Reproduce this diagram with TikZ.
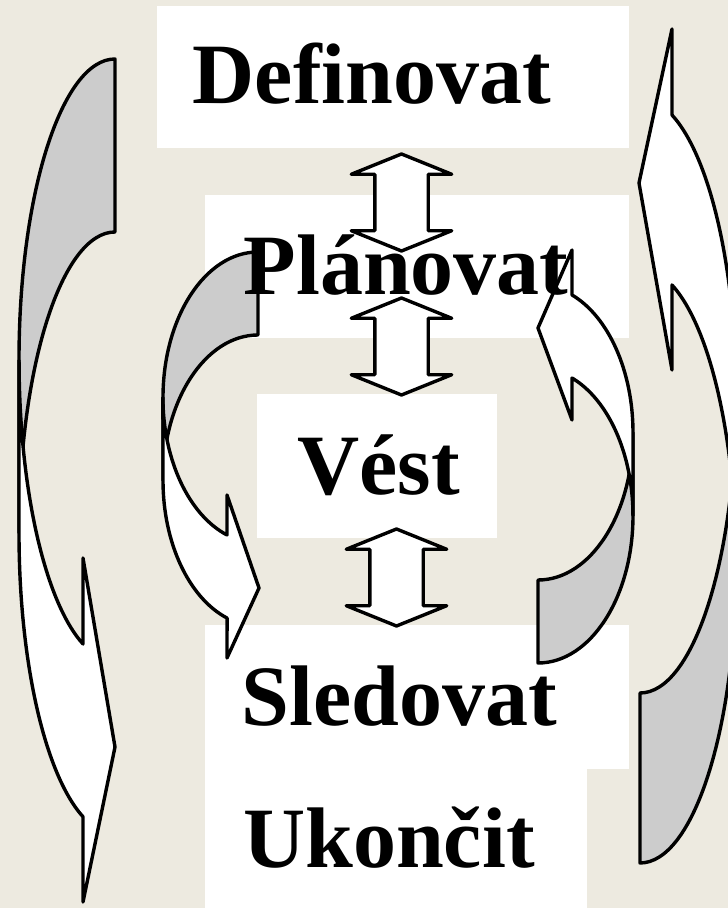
\documentclass[tikz,border=0pt]{standalone}
\usepackage{fontspec}
\setmainfont{Liberation Serif}[Ligatures=NoCommon]
\usepackage{tikz}
\usetikzlibrary{shapes.arrows}
\definecolor{paper}{HTML}{EDEAE0}
\definecolor{shade}{HTML}{CCCCCC}

\begin{document}
\begin{tikzpicture}[x=1pt,y=1pt,
          card/.style={fill=white,inner sep=0pt},
          word/.style={font=\fontsize{86}{90}\selectfont\bfseries,
                       inner sep=0pt,anchor=base},
          band/.style={draw,line width=3.4pt,line join=round},
          back/.style={band,fill=shade},
          face/.style={band,fill=white},
          link/.style={draw,fill=white,line width=3.4pt,line join=round,
                       shape=double arrow,rotate=90,
                       inner xsep=0pt,inner ysep=25pt,
                       minimum height=97pt,
                       double arrow head extend=23.5pt,
                       double arrow tip angle=136},
      ]
        \useasboundingbox (0,0) rectangle (728,908);
        \clip (0,0) rectangle (728,908);
        \fill[paper] (0,0) rectangle (728,908);

        % white boxes
        \node[card,minimum width=472pt,minimum height=142pt] (bdef) at (393,831) {};
        \node[card,minimum width=424pt,minimum height=143pt] (bplan) at (417,641.5) {};
        \node[card,minimum width=240pt,minimum height=144pt] (bvest) at (377,442) {};
        \node[card,minimum width=382pt,minimum height=160pt] (bukon) at (396,80) {};
        \node[card,minimum width=424pt,minimum height=144pt] (bsled) at (417,211) {};

        % big loop, left side
        \draw[back] (115,849) arc[start angle=90,end angle=180,x radius=96pt,y radius=301pt]
          -- (19,375) arc[start angle=180,end angle=90,x radius=96pt,y radius=301pt] -- cycle;
        \draw[face] (19,375) arc[start angle=180,end angle=250.5,x radius=96pt,y radius=301pt]
          -- (83,6) -- (115,161) -- (83,350) -- (83,264)
          arc[start angle=250.5,end angle=180,x radius=96pt,y radius=301pt] -- cycle;

        % small loop, left side
        \draw[back] (258,656) arc[start angle=90,end angle=180,x radius=95pt,y radius=145.5pt]
          -- (163,427.5) arc[start angle=180,end angle=90,x radius=95pt,y radius=145.5pt] -- cycle;
        \draw[face] (163,427.5) arc[start angle=180,end angle=251,x radius=95pt,y radius=145.5pt]
          -- (227,250) -- (259,320) -- (227,413) -- (227,373)
          arc[start angle=251,end angle=180,x radius=95pt,y radius=145.5pt] -- cycle;

        % big loop, right side
        \draw[back] (640,45) arc[start angle=270,end angle=360,x radius=96pt,y radius=297.5pt]
          -- (736,512.5) arc[start angle=0,end angle=-90,x radius=96pt,y radius=297.5pt] -- cycle;
        \draw[face] (736,512.5) arc[start angle=0,end angle=70.5,x radius=96pt,y radius=297.5pt]
          -- (672,879) -- (639,725) -- (672,538) -- (672,623)
          arc[start angle=70.5,end angle=0,x radius=96pt,y radius=297.5pt] -- cycle;

        % small loop, right side
        \draw[back] (538,245) arc[start angle=270,end angle=360,x radius=95pt,y radius=147.4pt]
          -- (633,475.4) arc[start angle=0,end angle=-90,x radius=95pt,y radius=147.4pt] -- cycle;
        \draw[face] (633,475.4) arc[start angle=0,end angle=69,x radius=95pt,y radius=147.4pt]
          -- (572,658) -- (538,580) -- (572,488) -- (572,530)
          arc[start angle=69,end angle=0,x radius=95pt,y radius=147.4pt] -- cycle;

        % up-down arrows
        \node[link] (defplan) at (401.5,705.5) {};
        \node[link] (planvest) at (401.5,561.5) {};
        \node[link] (vestsled) at (396.5,330.5) {};

        % words
        \node[word] (def) at (372,804) {Definovat};
        \node[word] (plan) at (406,613) {Plánovat};
        \node[word] (vest) at (378.5,413) {Vést};
        \node[word] (sled) at (399.5,182) {Sledovat};
        \node[word] (ukon) at (389,40) {Ukončit};
      \end{tikzpicture}
\end{document}
